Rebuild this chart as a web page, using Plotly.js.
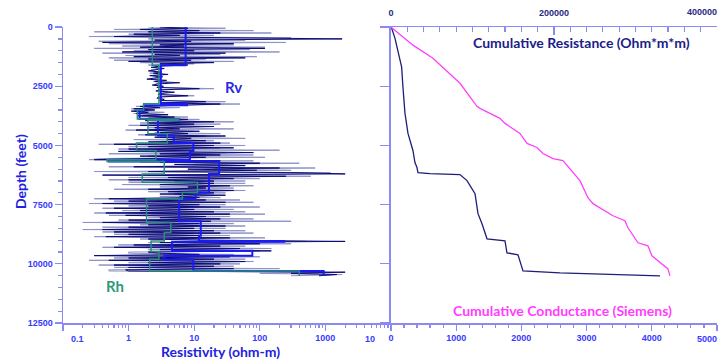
<!DOCTYPE html>
<html><head><meta charset="utf-8">
<script src="https://cdn.plot.ly/plotly-3.0.1.min.js"></script>
<style>html,body{margin:0;padding:0;background:#fff}</style>
</head><body><div id="chart" style="width:720px;height:361px"></div>
<script>
// ---- Left panel: resistivity logs (ohm-m), sampled every 50 ft from 0 ft ----
const logTopFt = 0;
const logStepFt = 50;
const navyLog = [
  3, 8, 1.5, 12, 2, 25, 1.2, 6, 0.6, 15, 1800, 2.5, 9, 0.4, 40, 3, 7, 1.5, 120, 2, 10, 0.8, 30, 2.5, 6, 1.2, 60, 2, 9, 1, 20, 3, 8,
  3, 2.2, 3.5, 2.6, 2.0, 3.2, 2.4, 4, 2.1, 3.3, 2.6, 1.9, 3.8, 2.5, 6, 2.8, 2.3, 3.4, 2.7, 12, 3, 2.6, 5, 3.2, 2.8, 8, 3, 2.7, 3.5, 3.1, 15, 3.2,
  25, 6, 1.5, 3, 1.2, 2.5, 1.1, 2, 1.3, 4, 1.4, 5, 2, 8, 1.8, 20,
  2, 10, 1.5, 20, 2.5, 6, 1.3, 12, 3, 8, 1.8, 30, 2.5, 9, 4, 15, 2, 25,
  0.6, 20, 2, 40, 1, 10, 0.7, 80, 3, 25, 1.5, 15, 0.9,
  0.3, 25, 3, 100, 5, 60, 1.2, 200, 8, 90, 2, 400, 2000, 0.4, 250, 4, 40, 1, 20,
  5, 20, 3, 35, 8, 15, 2, 40, 4, 20, 3, 30, 6, 12,
  0.5, 15, 1, 30, 0.4, 12, 2, 25, 0.6, 10, 1.5, 20, 0.45, 35, 0.9, 15, 3, 25, 1, 18, 0.4, 12, 2, 30, 1, 10,
  0.4, 20, 0.6, 25, 1, 12, 0.45, 35, 2, 15,
  2000, 3, 100, 1.2, 25, 0.6, 50, 3, 150, 2,
  3, 12, 0.3, 35, 1, 20, 0.5, 60, 2, 25, 0.6, 20, 1, 40, 0.9,
  1, 2000, 300, 1500, 800
];
const grayLog = [
  2, 30, 0.6, 80, 0.3, 150, 1, 20, 0.25, 300, 2, 60, 0.35, 250, 0.5, 40, 0.8, 120, 0.3, 70, 1.2, 200, 0.4, 25, 0.9, 90, 0.5, 15, 0.6, 40, 1.5, 10, 2,
  2.8, 2.5, 3, 2.2, 2.4, 2.9, 2.1, 3.5, 2.3, 2.8, 3.1, 2.2, 3, 2.4, 4, 2.6, 2.5, 3, 2.9, 20, 2.8, 3.3, 4, 2.9, 3.1, 10, 2.8, 3, 3.2, 2.9, 30, 3,
  50, 5, 1.3, 6, 1.1, 2.5, 1.2, 3.5, 1.2, 4, 1.6, 8, 1.5, 12, 2.2, 40,
  1.5, 25, 1, 12, 2, 40, 0.9, 10, 2.5, 25, 1.4, 15, 3, 60, 1.2, 20, 3, 35,
  0.35, 60, 1, 25, 0.7, 200, 1.5, 30, 0.5, 80, 2, 120, 0.4,
  0.25, 80, 1.5, 400, 10, 50, 0.5, 700, 20, 300, 0.3, 1200, 250, 2, 600, 1, 100, 0.5, 60,
  1, 60, 0.8, 80, 3, 40, 0.6, 60, 2, 30, 5, 20, 3, 25,
  0.3, 50, 0.6, 80, 0.25, 30, 1, 100, 0.4, 40, 0.8, 60, 0.3, 120, 0.5, 35, 2, 80, 0.7, 300, 0.2, 40, 1.5, 60, 0.4, 30,
  0.2, 60, 0.4, 80, 0.6, 35, 0.3, 120, 1.5, 40,
  500, 2, 300, 0.7, 60, 0.4, 150, 2, 100, 1,
  1, 40, 0.3, 100, 0.6, 60, 0.25, 80, 1, 50, 0.35, 40, 0.6, 200, 0.5,
  0.5, 1000, 100, 1800, 300
];
// Blocky (upscaled) Rv and Rh: layer boundaries (ft) and layer values (ohm-m)
const rvBounds = [0,1610,3234,3300,3560,3880,3930,4577,4900,5240,5600,5680,6200,6980,7260,8200,8810,9030,9060,9450,9660,9830,10300,10510];
const rvValues = [7.4,3.1,7.8,1.71,1.47,5.8,2.8,4.9,9.7,8.6,0.5,24,16.8,10.5,5.9,12.6,11.8,235,4.6,77,3.5,9.7,940];
const rhBounds = [0,1610,3234,3500,3880,3930,4505,4900,5212,5600,5680,6200,6555,6980,7260,8250,8670,9030,9480,9800,10300,10510];
const rhValues = [2.3,2.9,1.7,1.36,5.8,1.97,3.9,1.32,2.6,0.47,3.5,1.62,11.2,6.6,1.88,4.4,3.5,2.2,2.9,2.1,400];

// ---- Right panel: cumulative curves ----
const cresDepth = [0,763,1314,2373,3347,3432,3856,4068,4491,4915,5085,5339,5551,5635,6483,7203,7457,7966,8178,8474,9110,9237,9661,9957,10211,10508];
const cresValue = [0,27000,51500,84700,105500,109200,133700,139900,158300,166900,179100,186500,198800,211000,231900,241700,247900,272400,287100,290800,303100,315300,320200,330100,339900,342300];
const ccondDepth = [0,42,466,1398,1695,2542,3644,4491,5212,5720,5932,6144,6186,6229,6356,6483,7034,7881,8305,8940,9025,9533,9618,10296,10381,10508];
const ccondValue = [0,10,61,138,164,184,215,261,337,368,399,414,598,1058,1105,1166,1289,1335,1396,1473,1749,1779,1948,2025,2592,4126];

// ---- tick labels ----
const depthTicks = [0,2500,5000,7500,10000,12500];
const depthTickText = ['0','2500','5000','7500','10000','12500'];
const resTicks = [0.1,1,10,100,1000,10000];
const resTickText = ['','1','10','100','1000',''];
const condTicks = [0,1000,2000,3000,4000,5000];
const condTickText = ['0','1000','2000','3000','4000',''];
const cresTicks = [0,200000,400000];
const cresTickText = ['0','200000',''];

const logDepth = navyLog.map((_, i) => logTopFt + i * logStepFt);
function steps(bounds, vals) {
  const x = [], y = [];
  for (let i = 0; i < vals.length; i++) { x.push(vals[i], vals[i]); y.push(bounds[i], bounds[i+1]); }
  return {x, y};
}
const rv = steps(rvBounds, rvValues);
const rh = steps(rhBounds, rhValues);

const AX = '#8a8af2';
const TICKC = '#3a3aff';
const tf = {family: 'Liberation Sans, Arial, sans-serif', size: 9, color: TICKC, weight: 'bold'};
const tfTop = {family: 'Liberation Sans, Arial, sans-serif', size: 9, color: '#2a2a80', weight: 'bold'};
const TF = 'Lato, Open Sans, sans-serif';

const traces = [
  {x: grayLog, y: logDepth, xaxis: 'x', yaxis: 'y', mode: 'lines', line: {color: '#8e92c6', width: 1}, hoverinfo: 'skip'},
  {x: navyLog, y: logDepth, xaxis: 'x', yaxis: 'y', mode: 'lines', line: {color: '#0c0c78', width: 1}, hoverinfo: 'skip'},
  {x: rv.x, y: rv.y, xaxis: 'x', yaxis: 'y', mode: 'lines', line: {color: '#1a1af2', width: 2}},
  {x: rh.x, y: rh.y, xaxis: 'x', yaxis: 'y', mode: 'lines', line: {color: '#2a8c7c', width: 1.5}},
  {x: cresValue, y: cresDepth, xaxis: 'x4', yaxis: 'y2', mode: 'lines', line: {color: '#ff40ff', width: 1.3}},
  {x: ccondValue, y: ccondDepth, xaxis: 'x2', yaxis: 'y2', mode: 'lines', line: {color: '#1e1e78', width: 1.3}}
];

const common = {showline: true, linecolor: AX, linewidth: 1.5, showgrid: false, zeroline: false, tickcolor: AX, tickwidth: 1.2, fixedrange: true};
const yDom = [0.105, 0.925];
function ann(text, px, py, font, extra) {
  return Object.assign({text, x: px/720, y: 1 - py/361, xref: 'paper', yref: 'paper', showarrow: false,
    xanchor: 'center', yanchor: 'middle', font}, extra || {});
}
const layout = {
  width: 720, height: 361, margin: {l: 0, r: 0, t: 0, b: 0},
  paper_bgcolor: '#fff', plot_bgcolor: '#fff', showlegend: false,
  xaxis: Object.assign({}, common, {domain: [0.0875, 0.543], anchor: 'y', type: 'log', range: [-1, 4],
    tickmode: 'array', tickvals: resTicks, ticktext: resTickText, ticks: 'outside', ticklen: 6, tickfont: tf,
    minor: {ticks: 'outside', ticklen: 3, tickcolor: AX, dtick: 'D1', showgrid: false}}),
  xaxis3: Object.assign({}, common, {overlaying: 'x', side: 'top', anchor: 'y', type: 'log', range: [-1, 4],
    tickmode: 'array', tickvals: resTicks, showticklabels: false, ticks: 'inside', ticklen: 7}),
  yaxis: Object.assign({}, common, {domain: yDom, anchor: 'x', range: [12500, 0],
    tickmode: 'array', tickvals: depthTicks, ticktext: depthTickText, ticks: 'outside', ticklen: 7, tickfont: tf,
    minor: {ticks: 'outside', ticklen: 4, tickcolor: AX, dtick: 500, tick0: 0, showgrid: false}}),
  xaxis2: Object.assign({}, common, {domain: [0.543, 0.9958], anchor: 'y2', range: [0, 5000],
    tickmode: 'array', tickvals: condTicks, ticktext: condTickText, ticks: 'outside', ticklen: 6, tickfont: tf,
    minor: {ticks: 'outside', ticklen: 3, tickcolor: AX, dtick: 200, tick0: 0, showgrid: false}}),
  xaxis4: Object.assign({}, common, {overlaying: 'x2', side: 'top', anchor: 'y2', range: [0, 400000],
    tickmode: 'array', tickvals: cresTicks, ticktext: cresTickText, ticks: 'inside', ticklen: 8, tickfont: tfTop,
    ticklabelstandoff: 6,
    minor: {ticks: 'inside', ticklen: 5, tickcolor: AX, dtick: 20000, tick0: 0, showgrid: false}}),
  yaxis2: Object.assign({}, common, {domain: yDom, anchor: 'x2', range: [12500, 0],
    tickmode: 'array', tickvals: depthTicks, showticklabels: false, ticks: 'outside', ticklen: 9}),
  yaxis3: Object.assign({}, common, {overlaying: 'y2', side: 'right', anchor: 'x2', range: [12500, 0],
    tickmode: 'array', tickvals: depthTicks, showticklabels: false, ticks: 'inside', ticklen: 9}),
  annotations: [
    ann('0.1', 77, 339, tf),
    ann('10', 370, 339, tf),
    ann('5000', 707, 339, tf),
    ann('400000', 702, 12, tfTop),
    ann('Rv', 233, 87, {family: TF, size: 15, color: '#2a2ae6', weight: 'bold'}),
    ann('Rh', 115, 286, {family: TF, size: 15, color: '#2a9a78', weight: 'bold'}),
    ann('Resistivity (ohm-m)', 220, 351, {family: TF, size: 14, color: '#2222e0', weight: 'bold'}),
    ann('Depth (feet)', 20, 172, {family: TF, size: 14, color: '#2222e0', weight: 'bold'}, {textangle: -90}),
    ann('Cumulative Resistance (Ohm*m*m)', 581, 43, {family: TF, size: 14, color: '#1c1c8a', weight: 'bold'}),
    ann('Cumulative Conductance (Siemens)', 562, 310, {family: TF, size: 14, color: '#ff3cff', weight: 'bold'})
  ]
};
Plotly.newPlot('chart', traces, layout, {displayModeBar: false, staticPlot: true});
</script></body></html>
